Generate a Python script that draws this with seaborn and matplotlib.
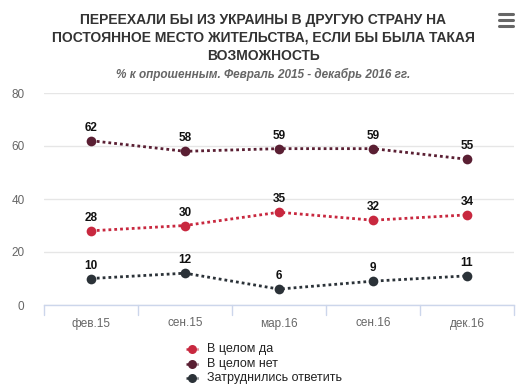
import matplotlib
matplotlib.use("Agg")
import matplotlib.pyplot as plt
import seaborn as sns
import pandas as pd
from matplotlib.lines import Line2D

categories = ["фев.15", "сен.15", "мар.16", "сен.16", "дек.16"]
series_names = ["В целом да", "В целом нет", "Затруднились ответить"]
yes_vals = [28, 30, 35, 32, 34]
no_vals = [62, 58, 59, 59, 55]
unsure_vals = [10, 12, 6, 9, 11]
colors = ["#c8283f", "#5a1f33", "#2b3238"]
y_ticks = [0, 20, 40, 60, 80]

sns.set_theme(style="white")
plt.rcParams['font.family'] = ['Liberation Sans', 'DejaVu Sans']

rows = []
for name, vals in zip(series_names, [yes_vals, no_vals, unsure_vals]):
    for i, (c, v) in enumerate(zip(categories, vals)):
        rows.append({"series": name, "x": i, "cat": c, "value": v})
df = pd.DataFrame(rows)

W, H = 528, 387
fig = plt.figure(figsize=(W / 100, H / 100), dpi=100)
ax = fig.add_axes([44 / W, 1 - 305 / H, 470 / W, 212 / H])

pal = dict(zip(series_names, colors))
sns.lineplot(data=df, x="x", y="value", hue="series", palette=pal, ax=ax,
             linestyle=(0, (1, 1.1)), linewidth=2.0, marker="o", markersize=7,
             markeredgewidth=0, legend=False, sort=False)

for name, vals in zip(series_names, [yes_vals, no_vals, unsure_vals]):
    for i, v in enumerate(vals):
        ax.annotate(str(v), (i, v), xytext=(0, 5), textcoords="offset points",
                    ha="center", va="bottom", fontsize=8.5, fontweight="bold",
                    color="#111111")

ax.set_xlim(-0.5, len(categories) - 0.5)
ax.set_ylim(0, 80)
ax.set_yticks(y_ticks)
ax.set_yticklabels([str(t) for t in y_ticks])
ax.set_xticks(range(len(categories)))
ax.set_xticklabels(categories)
ax.tick_params(axis="x", length=0, colors="#666666", labelsize=8.5, pad=9)
ax.tick_params(axis="y", length=0, colors="#666666", labelsize=8.5, pad=14)
for t in ax.get_yticklabels():
    t.set_horizontalalignment("right")
ax.yaxis.grid(True, color="#e6e6e6", linewidth=1)
ax.set_axisbelow(True)
for s in ["top", "right", "left"]:
    ax.spines[s].set_visible(False)
ax.spines["bottom"].set_color("#ccd6eb")
ax.spines["bottom"].set_linewidth(1)
ax.set_xlabel("")
ax.set_ylabel("")
for b in range(len(categories) + 1):
    ax.plot([b - 0.5, b - 0.5], [0, -3.6], color="#ccd6eb", linewidth=1,
            clip_on=False, transform=ax.transData)

title_lines = ["ПЕРЕЕХАЛИ БЫ ИЗ УКРАИНЫ В ДРУГУЮ СТРАНУ НА",
               "ПОСТОЯННОЕ МЕСТО ЖИТЕЛЬСТВА, ЕСЛИ БЫ БЫЛА ТАКАЯ",
               "ВОЗМОЖНОСТЬ"]
for k, line in enumerate(title_lines):
    fig.text(263 / W, 1 - (20 + 18 * k) / H, line, ha="center", va="center",
             fontsize=10, fontweight="bold", color="#333333")
fig.text(263 / W, 1 - 74 / H, "% к опрошенным. Февраль 2015 - декабрь 2016 гг.",
         ha="center", va="center", fontsize=8.5, fontweight="bold", style="italic",
         color="#666666")

for yy in [14, 20, 26]:
    fig.add_artist(Line2D([499 / W, 513 / W], [1 - yy / H, 1 - yy / H],
                          color="#666666", linewidth=2.2, transform=fig.transFigure))

for k, (name, c) in enumerate(zip(series_names, colors)):
    yy = 1 - (349 + k * 14.5) / H
    fig.add_artist(Line2D([186 / W, 198 / W], [yy, yy], color=c, linewidth=1.8,
                          linestyle=(0, (1, 1.2)), transform=fig.transFigure))
    fig.add_artist(Line2D([192 / W], [yy], color=c, marker="o", markersize=6.5,
                          markeredgewidth=0, transform=fig.transFigure))
    fig.text(207 / W, yy, name, ha="left", va="center", fontsize=9,
             color="#222222")

fig.savefig("out.png", dpi=100, facecolor="white")
